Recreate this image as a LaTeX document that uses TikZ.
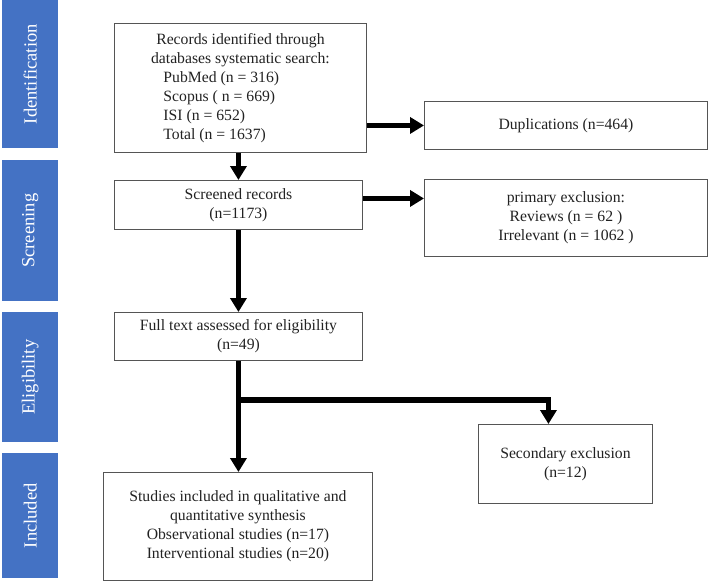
\documentclass[tikz,border=0pt]{standalone}
\usepackage{fontspec}
\setmainfont{Liberation Serif}
\usetikzlibrary{arrows.meta}
\definecolor{barblue}{HTML}{4472C4}
\definecolor{boxline}{HTML}{555555}
\definecolor{txt}{HTML}{222222}
\begin{document}
\begin{tikzpicture}[x=1pt,y=-1pt,
  box/.style={draw=boxline,line width=0.9pt,fill=white,anchor=north west,inner sep=0pt,align=center,text=txt,font=\fontsize{15.7pt}{19pt}\selectfont},
  bar/.style={fill=barblue,draw=none,anchor=north west,inner sep=0pt,minimum width=56pt},
  barlabel/.style={text=white,rotate=90,font=\fontsize{18.5pt}{22pt}\selectfont},
  arr/.style={line width=5.5pt,-{Triangle[width=16pt,length=14pt]}},
  ]
\useasboundingbox (0,0) rectangle (708,582);
% side bars
\node[bar,minimum height=148pt] (b1) at (2,0) {};
\node[bar,minimum height=141pt] (b2) at (2,160) {};
\node[bar,minimum height=130pt] (b3) at (2,312) {};
\node[bar,minimum height=125pt] (b4) at (2,453) {};
\node[barlabel] (l1) at (b1.center) {Identification};
\node[barlabel] (l2) at (b2.center) {Screening};
\node[barlabel] (l3) at (b3.center) {Eligibility};
\node[barlabel] (l4) at (b4.center) {Included};
% boxes
\node[box,minimum width=252pt,minimum height=129pt] (rec) at (114,23)
  {Records identified through\\databases systematic search:\\
   \makebox[154pt][l]{PubMed (n = 316)}\\
   \makebox[154pt][l]{Scopus ( n = 669)}\\
   \makebox[154pt][l]{ISI (n = 652)}\\
   \makebox[154pt][l]{Total (n = 1637)}};
\node[box,minimum width=283pt,minimum height=48pt] (dup) at (424,101) {Duplications (n=464)};
\node[box,minimum width=248pt,minimum height=49pt] (scr) at (114,180) {Screened records\\(n=1173)};
\node[box,minimum width=283pt,minimum height=77pt] (prim) at (424,179)
  {primary exclusion:\\Reviews (n = 62 )\\Irrelevant (n = 1062 )};
\node[box,minimum width=248pt,minimum height=48pt] (full) at (114,312) {Full text assessed for eligibility\\(n=49)};
\node[box,minimum width=174pt,minimum height=79pt] (sec) at (478,424) {Secondary exclusion\\(n=12)};
\node[box,minimum width=269pt,minimum height=108pt] (inc) at (103,472)
  {Studies included in qualitative and\\quantitative synthesis\\Observational studies (n=17)\\Interventional studies (n=20)};
% connectors
\draw[arr] (rec.south -| scr.north) -- (scr.north);
\draw[arr] (rec.east |- dup.west) -- (dup.west);
\draw[arr] ([yshift=6.5pt]scr.east) -- ([yshift=6.5pt]scr.east -| prim.west);
\draw[arr] (scr.south) -- (scr.south |- full.north);
\draw[arr] (full.south) -- (full.south |- inc.north);
\coordinate (br) at (full.south |- 0,400);
\draw[arr] (br) -| ([xshift=-17pt]sec.north);
\end{tikzpicture}
\end{document}
